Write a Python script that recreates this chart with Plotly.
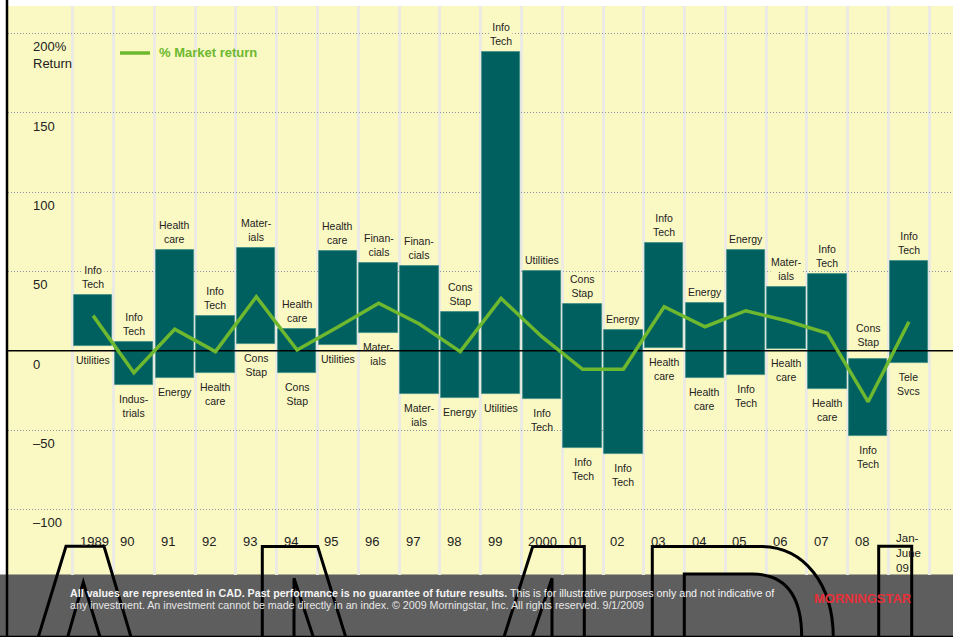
import plotly.graph_objects as go

# ---------------- data ----------------
years = ["1989", "90", "91", "92", "93", "94", "95", "96", "97", "98", "99",
         "2000", "01", "02", "03", "04", "05", "06", "07", "08", "Jan-<br>June<br>09"]
best_sector = ["Info<br>Tech", "Info<br>Tech", "Health<br>care", "Info<br>Tech", "Mater-<br>ials",
               "Health<br>care", "Health<br>care", "Finan-<br>cials", "Finan-<br>cials", "Cons<br>Stap",
               "Info<br>Tech", "Utilities", "Cons<br>Stap", "Energy", "Info<br>Tech", "Energy",
               "Energy", "Mater-<br>ials", "Info<br>Tech", "Cons<br>Stap", "Info<br>Tech"]
worst_sector = ["Utilities", "Indus-<br>trials", "Energy", "Health<br>care", "Cons<br>Stap",
                "Cons<br>Stap", "Utilities", "Mater-<br>ials", "Mater-<br>ials", "Energy",
                "Utilities", "Info<br>Tech", "Info<br>Tech", "Info<br>Tech", "Health<br>care",
                "Health<br>care", "Info<br>Tech", "Health<br>care", "Health<br>care", "Info<br>Tech",
                "Tele<br>Svcs"]
best_return = [35.1, 5.7, 63.5, 21.9, 64.6, 13.5, 62.9, 55.3, 53.6, 24.4, 188.5,
               50.3, 29.4, 13.2, 67.7, 30.1, 63.5, 40.2, 48.4, -5.4, 56.6]
worst_return = [3.0, -21.6, -17.4, -14.1, 4.4, -14.1, 3.6, 11.2, -27.3, -29.8, -27.3,
                -30.7, -61.4, -65.1, 1.9, -17.4, -15.5, 1.1, -24.1, -53.6, -7.8]
market_return = [22.1, -13.9, 13.5, -0.6, 34.0, 0.4, 15.0, 29.9, 16.8, -0.6, 33.0,
                 8.8, -11.7, -11.7, 27.7, 15.1, 25.2, 18.9, 11.0, -32.2, 18.3]
y_ticks = [200, 150, 100, 50, 0, -50, -100]
y_tick_text = ["200%<br>Return", "150", "100", "50", "0", "\u201350", "\u2013100"]

# ---------------- layout constants ----------------
W, H = 953, 637
L, R, T, B = 8, 0, 6, 62
X_RANGE = [-2.086, 21.08]
Y_RANGE = [-141.4, 217.3]
YELLOW = "#FBF9C3"
TEAL = "#00605F"
GREEN = "#6DB82F"
TXT = "#222222"
FONT = "Arial, Liberation Sans, sans-serif"


def px(x):
    return (x - L) / (W - L - R)


def py(y):
    return (H - B - y) / (H - T - B)


idx = list(range(len(years)))
fig = go.Figure()

fig.add_trace(go.Bar(
    x=idx, y=[b - w for b, w in zip(best_return, worst_return)], base=worst_return,
    width=0.94, marker=dict(color=TEAL, line=dict(color="#3E8C88", width=0.8)),
    hoverinfo="skip", showlegend=False))

fig.add_trace(go.Scatter(x=X_RANGE, y=[0, 0], mode="lines",
                         line=dict(color="black", width=1.5), hoverinfo="skip", showlegend=False))

fig.add_trace(go.Scatter(x=idx, y=market_return, mode="lines",
                         line=dict(color=GREEN, width=3.5), hoverinfo="skip", showlegend=False))

ann = []
for i in idx:
    ann.append(dict(x=i, y=best_return[i], xref="x", yref="y", text=best_sector[i],
                    showarrow=False, xanchor="center", yanchor="bottom",
                    yshift=4 if best_return[i] > 0 else 10,
                    font=dict(size=10.5, color=TXT, family=FONT),
                    bgcolor=YELLOW if best_return[i] > 0 else None, borderpad=0))
    ann.append(dict(x=i, y=worst_return[i], xref="x", yref="y", text=worst_sector[i],
                    showarrow=False, xanchor="center", yanchor="top", yshift=-7,
                    font=dict(size=10.5, color=TXT, family=FONT), borderpad=0))
    multi = "<br>" in years[i]
    ann.append(dict(x=i - 0.5, y=-114.4, xref="x", yref="y", text=years[i], showarrow=False,
                    xanchor="left", yanchor="top", xshift=5, yshift=2 if multi else 0,
                    align="left",
                    font=dict(size=11.5 if multi else 13, color=TXT, family=FONT)))

for v, t in zip(y_ticks, y_tick_text):
    ann.append(dict(x=px(31), y=v, xref="paper", yref="y", text=t, showarrow=False,
                    xanchor="left", yanchor="top", yshift=-4, align="left",
                    font=dict(size=13, color=TXT, family=FONT)))

# legend
ann.append(dict(x=px(157), y=py(53), xref="paper", yref="paper", text="<b>% Market return</b>",
                showarrow=False, xanchor="left", yanchor="middle",
                font=dict(size=13, color=GREEN, family=FONT)))

# footer text
ann.append(dict(x=px(68), y=py(592.5), xref="paper", yref="paper",
                text="<b>All values are represented in CAD. Past performance is no guarantee of future results.</b>"
                     " This is for illustrative purposes only and not indicative of",
                showarrow=False, xanchor="left", yanchor="middle",
                font=dict(size=10.7, color="#F4F4F4", family=FONT)))
ann.append(dict(x=px(68), y=py(604.5), xref="paper", yref="paper",
                text="any investment. An investment cannot be made directly in an index. "
                     "\u00a9 2009 Morningstar, Inc. All rights reserved. 9/1/2009",
                showarrow=False, xanchor="left", yanchor="middle",
                font=dict(size=10.7, color="#E6E6E6", family=FONT)))
ann.append(dict(x=px(863), y=py(598.5), xref="paper", yref="paper", text="<b>MORNINGSTAR</b>",
                showarrow=False, xanchor="center", yanchor="middle",
                font=dict(size=13, color="#E63039",
                          family="Liberation Sans Narrow, Arial Narrow, Arial, sans-serif")))

shapes = [
    dict(type="rect", xref="paper", yref="paper", x0=px(0), x1=px(W), y0=py(H), y1=py(574.5),
         fillcolor="#5E5E5E", line=dict(width=0), layer="below"),
    dict(type="line", xref="paper", yref="paper", x0=px(120), x1=px(150), y0=py(53), y1=py(53),
         line=dict(color=GREEN, width=3.5)),
    dict(type="line", xref="paper", yref="paper", x0=px(7), x1=px(7), y0=py(0), y1=py(H),
         line=dict(color="black", width=2.5)),
    dict(type="line", xref="paper", yref="paper", x0=px(0), x1=px(W), y0=py(636.5), y1=py(636.5),
         line=dict(color="black", width=1.5)),
]

outline_paths = [
    [("M", 38.3, 637), ("L", 66, 546.3), ("L", 104, 546.3), ("L", 131, 637)],
    [("M", 67.7, 637), ("L", 83.3, 582.3), ("L", 100, 637)],
    [("M", 262.3, 637), ("L", 262.3, 546.5), ("L", 317.7, 546.5), ("L", 345.7, 637)],
    [("M", 294, 637), ("L", 294, 578.3), ("L", 313.3, 637)],
    [("M", 504, 637), ("L", 532.7, 546.5), ("L", 584.3, 546.5), ("L", 584.3, 637)],
    [("M", 532.3, 637), ("L", 552, 578.3), ("L", 552, 637)],
    [("M", 652.3, 637), ("L", 652.3, 546.5), ("L", 760, 546.5),
     ("C", 805, 546.5), ("", 833, 585), ("", 833.3, 637)],
    [("M", 684.3, 637), ("L", 684.3, 574), ("L", 752, 574),
     ("C", 785, 574), ("", 801.7, 595), ("", 801.7, 637)],
    [("M", 878.7, 637), ("L", 878.7, 546.3), ("L", 911.7, 546.3), ("L", 911.7, 637)],
]
for p in outline_paths:
    d = " ".join(f"{c}{px(x):.5f},{py(y):.5f}" if c else f"{px(x):.5f},{py(y):.5f}" for c, x, y in p)
    shapes.append(dict(type="path", xref="paper", yref="paper", path=d,
                       line=dict(color="black", width=3), layer="above"))

fig.update_layout(
    width=W, height=H, margin=dict(l=L, r=R, t=T, b=B),
    paper_bgcolor="white", plot_bgcolor=YELLOW,
    showlegend=False, bargap=0,
    xaxis=dict(range=X_RANGE, tickvals=[k - 0.5 for k in range(len(years) + 1)],
               showticklabels=False, ticks="", showgrid=True, gridcolor="#EBEBE4", gridwidth=2.6,
               zeroline=False, showline=False, fixedrange=True),
    yaxis=dict(range=Y_RANGE, tickvals=[v for v in y_ticks if v != 0], showticklabels=False,
               ticks="", showgrid=True, gridcolor="#8E92A8", gridwidth=1.2, griddash="1px,2px",
               zeroline=False, showline=False, fixedrange=True),
    annotations=ann, shapes=shapes,
)

fig.write_html("out.html", config={"displayModeBar": False},
               post_script="document.body.style.margin='0px';document.body.style.overflow='hidden';")
